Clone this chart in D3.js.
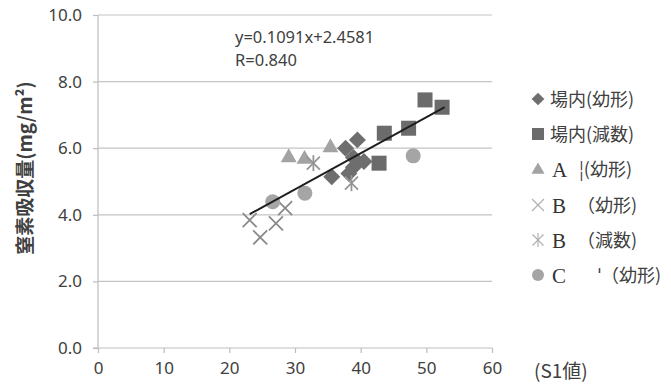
<!DOCTYPE html>
<html><head><meta charset="utf-8">
<script src="https://cdn.jsdelivr.net/npm/d3@7"></script>
<style>body{margin:0;background:#fff}</style>
</head><body><svg id="c" width="671" height="389"></svg>
<script>
const xTicks=[0,10,20,30,40,50,60];
const yTicks=[0,2,4,6,8,10];
const diamondX=[39.5,37.7,38.9,40.5,38.9,38.2,35.6];
const diamondY=[6.25,6.0,5.72,5.6,5.43,5.24,5.14];
const squareX=[49.8,52.4,47.3,43.6,42.8];
const squareY=[7.45,7.23,6.6,6.45,5.55];
const triX=[29.05,31.45,35.4];
const triY=[5.75,5.7,6.05];
const crossX=[23.1,24.7,27.1,28.5];
const crossY=[3.84,3.32,3.74,4.2];
const starX=[32.8,38.6];
const starY=[5.55,4.95];
const circleX=[26.6,31.5,48.0];
const circleY=[4.39,4.65,5.77];
const trendX=[23.1,52.8];
const trendY=[4.02,7.23];
const eqLines=["y=0.1091x+2.4581","R=0.840"];
const legendLetters=["","","A","B","B","C"];
const legendLabels=["場内(幼形)","場内(減数)","¦(幼形)","（幼形)","（減数)","ˈ（幼形)"];
const yTitle="窒素吸収量(mg/m²)";
const xTitle="(S1値)";

const svg=d3.select("#c");
const x=d3.scaleLinear().domain([0,60]).range([98,492]);
const y=d3.scaleLinear().domain([0,10]).range([348,15]);
const sans="'Noto Sans', 'Open Sans', sans-serif";
const cjk="'Noto Sans CJK JP', 'Noto Sans', sans-serif";

// gridlines
svg.append("g").selectAll("line").data(yTicks.filter(d=>d>0)).join("line")
  .attr("x1",x(0)).attr("x2",x(60)).attr("y1",d=>y(d)).attr("y2",d=>y(d))
  .attr("stroke","#c4c4c4").attr("stroke-width",1.2);

// axes
const yAxis=svg.append("g").attr("transform",`translate(${x(0)},0)`)
  .call(d3.axisLeft(y).tickValues(yTicks).tickSize(5).tickFormat(d3.format(".1f")));
const xAxis=svg.append("g").attr("transform",`translate(0,${y(0)})`)
  .call(d3.axisBottom(x).tickValues(xTicks).tickSize(5).tickFormat(d3.format("d")));
[yAxis,xAxis].forEach(a=>{
  a.select(".domain").attr("stroke","#bdbdbd").attr("stroke-width",1.2);
  a.selectAll(".tick line").attr("stroke","#bdbdbd").attr("stroke-width",1.2);
  a.selectAll("text").attr("fill","#404040").style("font-family",sans).style("font-size","17px");
});
yAxis.select(".domain").attr("d",`M0,${y(10)}V${y(0)}`);
xAxis.select(".domain").attr("d",`M${x(0)-5},0H${x(60)}`);
yAxis.selectAll(".tick line").attr("x2",-5);
yAxis.selectAll("text").attr("x",-16);
xAxis.selectAll("text").attr("y",14);

// series
const gS=svg.append("g");
const pts=(xs,ys)=>xs.map((v,i)=>[x(v),y(ys[i])]);
gS.selectAll(".dia").data(pts(diamondX,diamondY)).join("rect")
  .attr("x",-6).attr("y",-6).attr("width",12).attr("height",12)
  .attr("transform",d=>`translate(${d[0]},${d[1]}) rotate(45)`).attr("fill","#6e6e6e");
gS.selectAll(".sq").data(pts(squareX,squareY)).join("rect")
  .attr("x",d=>d[0]-7.5).attr("y",d=>d[1]-7.5).attr("width",15).attr("height",15).attr("fill","#6b6b6b");
const tri=d3.symbol().type(d3.symbolTriangle).size(110);
gS.selectAll(".tri").data(pts(triX,triY)).join("path")
  .attr("d",tri).attr("transform",d=>`translate(${d[0]},${d[1]+1})`).attr("fill","#a3a3a3");
function cross(g,s){g.append("path").attr("d",`M${-s},${-s}L${s},${s}M${-s},${s}L${s},${-s}`);}
gS.selectAll(".cr").data(pts(crossX,crossY)).join("g")
  .attr("transform",d=>`translate(${d[0]},${d[1]})`).attr("stroke","#8a8a8a").attr("stroke-width",1.8)
  .each(function(){cross(d3.select(this),7);});
gS.selectAll(".st").data(pts(starX,starY)).join("g")
  .attr("transform",d=>`translate(${d[0]},${d[1]})`).attr("stroke","#959595").attr("stroke-width",1.8)
  .each(function(){const g=d3.select(this);cross(g,6.5);g.append("path").attr("d","M0,-8V8");});
gS.selectAll(".ci").data(pts(circleX,circleY)).join("circle")
  .attr("cx",d=>d[0]).attr("cy",d=>d[1]).attr("r",7.5).attr("fill","#a5a5a5");

// trendline
svg.append("line").attr("x1",x(trendX[0])).attr("y1",y(trendY[0]))
  .attr("x2",x(trendX[1])).attr("y2",y(trendY[1])).attr("stroke","#1e1e1e").attr("stroke-width",2);

// equation
svg.append("g").selectAll("text").data(eqLines).join("text")
  .attr("x",235).attr("y",(d,i)=>43+i*23).text(d=>d)
  .attr("fill","#404040").style("font-family",sans).style("font-size","16.5px");

// titles
svg.append("text").attr("transform","translate(32,168) rotate(-90)").attr("text-anchor","middle")
  .text(yTitle).attr("fill","#404040").style("font-family",cjk).style("font-size","19px").style("font-weight","bold");
svg.append("text").attr("x",534).attr("y",378).text(xTitle)
  .attr("fill","#404040").style("font-family",cjk).style("font-size","19px");

// legend
const ly=[99,134,169,205,240,275];
const lg=svg.append("g");
lg.append("rect").attr("x",-4.5).attr("y",-4.5).attr("width",9).attr("height",9)
  .attr("transform",`translate(538,${ly[0]}) rotate(45)`).attr("fill","#6e6e6e");
lg.append("rect").attr("x",532).attr("y",ly[1]-6).attr("width",12).attr("height",12).attr("fill","#6b6b6b");
lg.append("path").attr("d",d3.symbol().type(d3.symbolTriangle).size(75)).attr("transform",`translate(538,${ly[2]+1})`).attr("fill","#a3a3a3");
lg.append("g").attr("transform",`translate(538,${ly[3]})`).attr("stroke","#b0b0b0").attr("stroke-width",1.2).call(g=>cross(g,6));
lg.append("g").attr("transform",`translate(538,${ly[4]})`).attr("stroke","#b0b0b0").attr("stroke-width",1.2).call(g=>{cross(g,5.5);g.append("path").attr("d","M0,-7V7");});
lg.append("circle").attr("cx",538).attr("cy",ly[5]).attr("r",6).attr("fill","#a5a5a5");
const labelX=[550,550,579,577,577,598];
lg.selectAll(".ll").data(legendLabels).join("text")
  .attr("x",(d,i)=>labelX[i]).attr("y",(d,i)=>ly[i]+7).text(d=>d)
  .attr("fill","#404040").style("font-family",cjk).style("font-size","18px");
lg.selectAll(".lt").data(legendLetters).join("text")
  .attr("x",552).attr("y",(d,i)=>ly[i]+8).text(d=>d)
  .attr("fill","#333").style("font-family","'Liberation Serif', 'DejaVu Serif', serif").style("font-size","21px");
</script></body></html>
